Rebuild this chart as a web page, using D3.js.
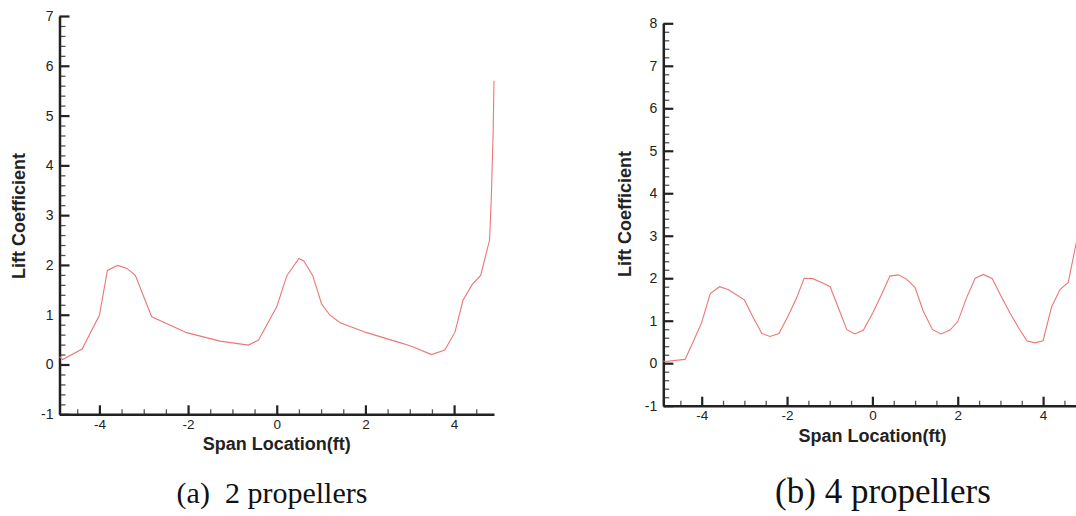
<!DOCTYPE html>
<html>
<head>
<meta charset="utf-8">
<script src="https://cdn.jsdelivr.net/npm/d3@7"></script>
<style>
  body { margin: 0; background: #fff; }
  svg { display: block; }
  .tick text { font-family: "Liberation Sans", Arial, sans-serif; fill: #222; }
</style>
</head>
<body>
<div class="container"></div>
<script>
// (a) 2 propellers
const spanA = [-4.9, -4.83, -4.39, -4.0, -3.82, -3.59, -3.38, -3.19, -3.0, -2.82, -2.03, -1.28, -0.64, -0.41, 0.0, 0.23, 0.5, 0.61, 0.81, 1.01, 1.2, 1.43, 2.03, 2.85, 3.08, 3.49, 3.79, 4.02, 4.2, 4.41, 4.6, 4.8, 4.84, 4.88, 4.9];
const liftA = [0.16, 0.1, 0.31, 0.99, 1.89, 1.99, 1.93, 1.79, 1.36, 0.96, 0.64, 0.47, 0.39, 0.49, 1.16, 1.79, 2.13, 2.08, 1.79, 1.22, 0.99, 0.84, 0.64, 0.42, 0.35, 0.2, 0.29, 0.65, 1.29, 1.61, 1.79, 2.5, 3.37, 4.64, 5.7];

// (b) 4 propellers
const spanB = [-4.9, -4.86, -4.39, -4.19, -4.0, -3.8, -3.58, -3.37, -3.0, -2.8, -2.59, -2.4, -2.19, -1.99, -1.77, -1.6, -1.4, -1.19, -0.99, -0.8, -0.6, -0.41, -0.21, 0.01, 0.22, 0.41, 0.61, 0.8, 1.0, 1.19, 1.41, 1.61, 1.82, 2.0, 2.21, 2.41, 2.6, 2.81, 3.01, 3.22, 3.42, 3.62, 3.81, 4.0, 4.2, 4.4, 4.59, 4.78];
const liftB = [0.05, 0.04, 0.09, 0.53, 0.96, 1.64, 1.8, 1.73, 1.49, 1.09, 0.7, 0.63, 0.7, 1.08, 1.55, 2.0, 1.99, 1.9, 1.8, 1.31, 0.79, 0.69, 0.78, 1.19, 1.63, 2.05, 2.08, 1.98, 1.78, 1.23, 0.79, 0.69, 0.78, 0.98, 1.55, 2.0, 2.09, 1.99, 1.59, 1.19, 0.84, 0.53, 0.48, 0.53, 1.33, 1.74, 1.9, 2.85];

const xTicks = [-4, -2, 0, 2, 4];
const yTicksA = [-1, 0, 1, 2, 3, 4, 5, 6, 7];
const yTicksB = [-1, 0, 1, 2, 3, 4, 5, 6, 7, 8];

const w = 1076, h = 516;

const svg = d3.select(".container")
  .append("svg")
  .attr("width", w)
  .attr("height", h);

function panel(opt) {
  const x = d3.scaleLinear().domain([-4.9, 4.9]).range(opt.xr);
  const y = d3.scaleLinear().domain([opt.yTicks[0], opt.yTicks[opt.yTicks.length - 1]]).range(opt.yr);
  const g = svg.append("g");

  const xMinor = d3.range(-4.5, 4.9, 0.5).filter(v => Math.abs(v % 2) > 0.01);
  const yMinor = d3.range(opt.yTicks[0], opt.yTicks[opt.yTicks.length - 1], 0.2)
    .filter(v => Math.abs(v - Math.round(v)) > 0.01);

  // minor ticks
  g.append("g")
    .attr("transform", `translate(0,${opt.yr[0]})`)
    .call(d3.axisBottom(x).tickValues(xMinor).tickSize(-5).tickFormat(""))
    .call(a => a.select(".domain").remove())
    .call(a => a.selectAll("line").attr("stroke", "#555").attr("stroke-width", 1.3));
  g.append("g")
    .attr("transform", `translate(${opt.xr[0]},0)`)
    .call(d3.axisLeft(y).tickValues(yMinor).tickSize(-6).tickFormat(""))
    .call(a => a.select(".domain").remove())
    .call(a => a.selectAll("line").attr("stroke", "#555").attr("stroke-width", 1.3));

  // major ticks
  g.append("g")
    .attr("transform", `translate(0,${opt.yr[0]})`)
    .call(d3.axisBottom(x).tickValues(xTicks).tickSize(-9).tickSizeOuter(0).tickPadding(5).tickFormat(d => d.toString()))
    .call(a => a.select(".domain").attr("stroke", "#222").attr("stroke-width", 2.5))
    .call(a => a.selectAll("line").attr("stroke", "#222").attr("stroke-width", 2.2))
    .call(a => a.selectAll("text").attr("font-size", 13.5));
  g.append("g")
    .attr("transform", `translate(${opt.xr[0]},0)`)
    .call(d3.axisLeft(y).tickValues(opt.yTicks).tickSize(-10).tickSizeOuter(0).tickPadding(6).tickFormat(d => d.toString()))
    .call(a => a.select(".domain").attr("stroke", "#222").attr("stroke-width", 2.5))
    .call(a => a.selectAll("line").attr("stroke", "#222").attr("stroke-width", 2.2))
    .call(a => a.selectAll("text").attr("font-size", 14));

  const line = d3.line()
    .x((d, i) => x(opt.xs[i]))
    .y(d => y(d));

  g.append("path")
    .datum(opt.ys)
    .attr("d", line)
    .attr("fill", "none")
    .attr("stroke", "#ec7676")
    .attr("stroke-width", 1.1);

  g.append("text")
    .attr("x", x(0))
    .attr("y", opt.yr[0] + 36)
    .attr("text-anchor", "middle")
    .attr("font-family", "Liberation Sans, Arial, sans-serif")
    .attr("font-weight", "bold")
    .attr("font-size", 18)
    .attr("fill", "#222")
    .text("Span Location(ft)");

  g.append("text")
    .attr("transform", `translate(${opt.yTitleX},${opt.yTitleY}) rotate(-90)`)
    .attr("text-anchor", "middle")
    .attr("font-family", "Liberation Sans, Arial, sans-serif")
    .attr("font-weight", "bold")
    .attr("font-size", 18)
    .attr("fill", "#222")
    .text("Lift Coefficient");

  svg.append("text")
    .attr("x", opt.capX)
    .attr("y", 503)
    .attr("text-anchor", "middle")
    .attr("font-family", "Liberation Serif, Times New Roman, serif")
    .attr("font-size", opt.capSize)
    .attr("fill", "#111")
    .style("white-space", "pre")
    .text(opt.caption);
}

panel({
  xs: spanA, ys: liftA, yTicks: yTicksA,
  xr: [59.5, 494], yr: [414.3, 16],
  yTitleX: 25, yTitleY: 216,
  capX: 272, capSize: 30, caption: "(a)  2 propellers"
});

panel({
  xs: spanB, ys: liftB, yTicks: yTicksB,
  xr: [663.3, 1081.5], yr: [405.7, 23.3],
  yTitleX: 631, yTitleY: 214,
  capX: 883, capSize: 35, caption: "(b) 4 propellers"
});
</script>
</body>
</html>
